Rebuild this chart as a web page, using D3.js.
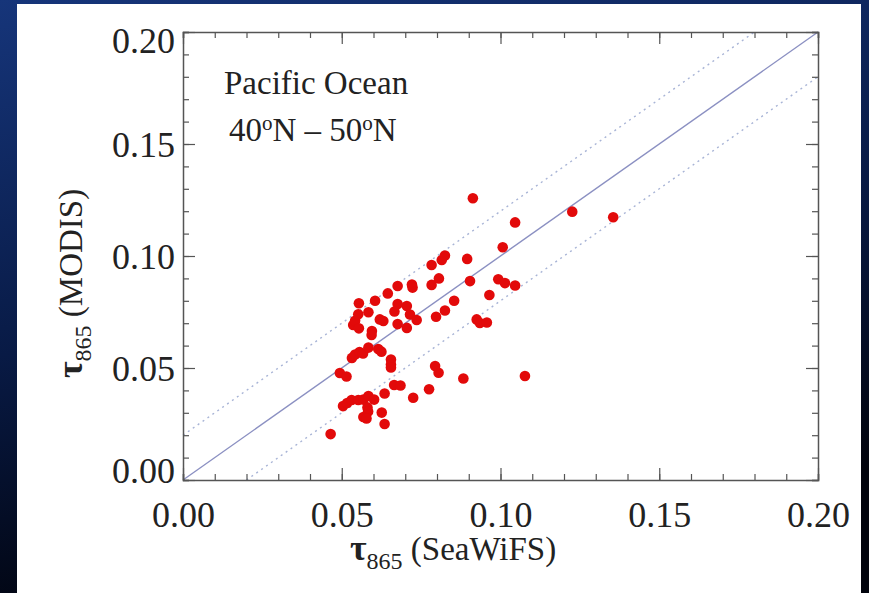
<!DOCTYPE html>
<html>
<head>
<meta charset="utf-8">
<script src="https://d3js.org/d3.v7.min.js"></script>
<style>
  body { margin: 0; background: #000; }
  text { font-family: "Liberation Serif", "DejaVu Serif", serif; fill: #222; }
</style>
</head>
<body>
<div id="scatter"></div>
<script>

// aerosol optical thickness at 865 nm, SeaWiFS (x) vs MODIS (y)
var seawifs = [0.0465, 0.0494, 0.0515, 0.0504, 0.0517, 0.0531, 0.0552, 0.0568, 0.0584, 0.0602,
               0.0581, 0.0583, 0.0568, 0.0578, 0.0626, 0.0635, 0.0635, 0.0665, 0.0685, 0.0725,
               0.0775, 0.0655, 0.0655, 0.0655, 0.0532, 0.0542, 0.0556, 0.0567, 0.0584, 0.0615,
               0.0625, 0.0595, 0.0594, 0.0536, 0.0542, 0.0554, 0.0552, 0.0584, 0.0554, 0.0605,
               0.0645, 0.0676, 0.0721, 0.0723, 0.0676, 0.0705, 0.0666, 0.0715, 0.0736, 0.0620,
               0.0631, 0.0676, 0.0705, 0.0797, 0.0825, 0.0854, 0.0783, 0.0806, 0.0783, 0.0815,
               0.0825, 0.0895, 0.0904, 0.0913, 0.0965, 0.0925, 0.0935, 0.0957, 0.0993, 0.1014,
               0.1046, 0.1007, 0.1046, 0.1226, 0.1355, 0.1077, 0.0883, 0.0805, 0.0794];
var modis   = [0.0205, 0.0478, 0.0462, 0.0330, 0.0344, 0.0357, 0.0357, 0.0359, 0.0375, 0.0359,
               0.0324, 0.0306, 0.0281, 0.0275, 0.0301, 0.0250, 0.0386, 0.0424, 0.0422, 0.0367,
               0.0405, 0.0538, 0.0516, 0.0502, 0.0545, 0.0560, 0.0571, 0.0565, 0.0591, 0.0585,
               0.0573, 0.0665, 0.0647, 0.0692, 0.0711, 0.0677, 0.0740, 0.0749, 0.0789, 0.0800,
               0.0833, 0.0866, 0.0873, 0.0859, 0.0786, 0.0777, 0.0752, 0.0739, 0.0714, 0.0717,
               0.0710, 0.0696, 0.0679, 0.0729, 0.0757, 0.0800, 0.0871, 0.0900, 0.0960, 0.0982,
               0.1002, 0.0987, 0.0888, 0.1258, 0.0826, 0.0717, 0.0701, 0.0703, 0.0896, 0.0879,
               0.0868, 0.1039, 0.1150, 0.1198, 0.1173, 0.0464, 0.0453, 0.0479, 0.0509];

var majorTicks = [0, 0.05, 0.10, 0.15, 0.20];
var minorTicks = d3.range(0, 21).map(function(i) { return i / 100; });
var tickLabels = ["0.00", "0.05", "0.10", "0.15", "0.20"];
var lineOffsets = [-0.02, 0, 0.02];   // 1:1 line and +/- 0.02 envelope

var W = 869, H = 593;
var margin = {top: 32, left: 183},
    width = 635,
    height = 448;

var svg = d3.select("#scatter")
  .append("svg")
    .attr("width", W)
    .attr("height", H);

// dark blue slide background
var grad = svg.append("defs").append("linearGradient")
    .attr("id", "bg").attr("x1", 0).attr("y1", 0).attr("x2", 0.3).attr("y2", 1);
grad.append("stop").attr("offset", "0%").attr("stop-color", "#16357a");
grad.append("stop").attr("offset", "55%").attr("stop-color", "#081a45");
grad.append("stop").attr("offset", "100%").attr("stop-color", "#01030c");
svg.append("rect").attr("width", W).attr("height", H).attr("fill", "url(#bg)");
svg.append("rect").attr("x", 17).attr("y", 4).attr("width", 844).attr("height", H - 4)
    .attr("fill", "#fff");

var g = svg.append("g")
    .attr("transform", "translate(" + margin.left + "," + margin.top + ")");

var x = d3.scaleLinear().domain([0, 0.2]).range([0, width]);
var y = d3.scaleLinear().domain([0, 0.2]).range([height, 0]);

// reference lines
var lineGen = d3.line().x(function(d) { return x(d[0]); }).y(function(d) { return y(d[1]); });
lineOffsets.forEach(function(off) {
  var x0 = Math.max(0, -off), x1 = Math.min(0.2, 0.2 - off);
  g.append("path")
    .datum([[x0, x0 + off], [x1, x1 + off]])
    .attr("d", lineGen)
    .attr("fill", "none")
    .attr("stroke", off === 0 ? "#8b90c2" : "#a8b4d6")
    .attr("stroke-width", 1.4)
    .attr("stroke-dasharray", off === 0 ? null : "2,4");
});

// points
g.append("g")
  .selectAll("circle")
  .data(seawifs)
  .enter()
  .append("circle")
    .attr("cx", function(d) { return x(d); })
    .attr("cy", function(d, i) { return y(modis[i]); })
    .attr("r", 5.3)
    .style("fill", "#e20a0a");

// axes: all four sides, ticks pointing in
function fmt(d) { return tickLabels[majorTicks.indexOf(d)] || ""; }
function styleAxis(sel) {
  sel.select(".domain").attr("stroke", "#555").attr("stroke-width", 1.5);
  sel.selectAll("line").attr("stroke", "#555").attr("stroke-width", 1.2);
  sel.selectAll("text").style("font-size", "36px").attr("fill", "#222")
    .style("font-family", "Liberation Serif");
}

var axes = [
  {gen: d3.axisBottom(x), t: "translate(0," + height + ")", labels: true, pad: 21},
  {gen: d3.axisLeft(y),   t: "translate(0,0)",             labels: true, pad: 8},
  {gen: d3.axisTop(x),    t: "translate(0,0)",             labels: false, pad: 8},
  {gen: d3.axisRight(y),  t: "translate(" + width + ",0)", labels: false, pad: 8}
];
axes.forEach(function(a) {
  // minor ticks
  g.append("g").attr("transform", a.t)
    .call(a.gen.tickValues(minorTicks).tickSize(-6).tickFormat(""))
    .call(styleAxis);
  // major ticks + labels
  var ax = g.append("g").attr("transform", a.t)
    .attr("class", a.gen === axes[1].gen ? "yleft" : null)
    .call(a.gen.tickValues(majorTicks).tickSize(-12)
      .tickPadding(a.pad)
      .tickFormat(a.labels ? fmt : ""))
    .call(styleAxis);
  ax.select(".domain").remove();
});

// IDL-style end labels on the y axis sit inside the frame
g.select(".yleft").selectAll(".tick text")
  .attr("dy", function(d) { return d === 0.2 ? "0.58em" : d === 0 ? "0.06em" : "0.36em"; });

// annotation
var note = svg.append("text").attr("x", 224).attr("y", 94).style("font-size", "33px");
note.text("Pacific Ocean");
var lat = svg.append("text").attr("x", 229).attr("y", 141).style("font-size", "33px");
lat.append("tspan").text("40");
lat.append("tspan").attr("dy", -11).style("font-size", "21px").text("o");
lat.append("tspan").attr("dy", 11).text("N \u2013 50");
lat.append("tspan").attr("dy", -11).style("font-size", "21px").text("o");
lat.append("tspan").attr("dy", 11).text("N");

// axis titles
function axisTitle(sel, name) {
  sel.append("tspan").style("font-size", "36px").style("font-weight", "bold").text("\u03c4");
  sel.append("tspan").attr("dy", 9).style("font-size", "24px").text("865");
  sel.append("tspan").attr("dy", -9).style("font-size", "33px").text(" (" + name + ")");
}
svg.append("text").attr("x", 350).attr("y", 560).call(axisTitle, "SeaWiFS");
svg.append("text").attr("transform", "translate(82,378) rotate(-90)").call(axisTitle, "MODIS");

</script>
</body>
</html>
